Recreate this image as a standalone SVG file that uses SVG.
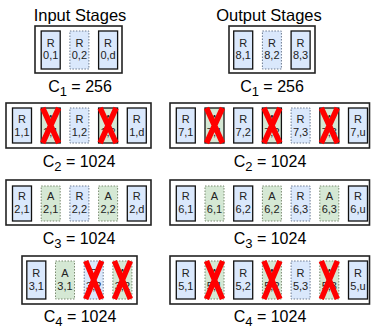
<svg xmlns="http://www.w3.org/2000/svg" width="371" height="329" viewBox="0 0 371 329">
<style>
text{font-family:"Liberation Sans",Arial,sans-serif;fill:#000}
.title{font-size:16.5px;text-anchor:middle}
.cap{font-size:16px;text-anchor:middle}
.sub{font-size:13px}
.t{font-size:11px;text-anchor:middle;fill:#222}
.outer{fill:#fff;stroke:#222;stroke-width:1.6}
.rs{fill:#dae8fc;stroke:#111;stroke-width:1.3}
.rd{fill:#dae8fc;stroke:#6c7a90;stroke-width:1;stroke-dasharray:1.5 1.5}
.as{fill:#d5e8d4;stroke:#111;stroke-width:1.3}
.ad{fill:#d5e8d4;stroke:#7a8a70;stroke-width:1;stroke-dasharray:1.5 1.5}
.x{stroke:#ff0000;stroke-width:5.5;fill:none;stroke-linecap:butt}
</style>
<defs>
<path id="X" class="x" d="M1.5 0 L17.5 35 M17.5 0 L1.5 35"/>
<path id="X4" class="x" d="M1.5 0 L17.5 38 M17.5 0 L1.5 38"/>
</defs>

<text class="title" x="80" y="21">Input Stages</text>
<text class="title" x="269" y="21">Output Stages</text>

<!-- Row 1 left -->
<g id="in0">
<rect class="outer" x="35" y="26" width="87" height="47"/>
<g id="r01"><rect class="rs" x="41.2" y="31" width="19" height="38"/><text class="t" x="50.7" y="47">R</text><text class="t" x="50.7" y="59">0,1</text></g>
<g id="r02"><rect class="rd" x="69.9" y="31" width="19" height="38"/><text class="t" x="79.4" y="47">R</text><text class="t" x="79.4" y="59">0,2</text></g>
<g id="r0d"><rect class="rs" x="98.6" y="31" width="19" height="38"/><text class="t" x="108.1" y="47">R</text><text class="t" x="108.1" y="59">0,d</text></g>
</g>
<text class="cap" x="80" y="92">C<tspan class="sub" dy="3.5">1</tspan><tspan dy="-3.5"> = 256</tspan></text>

<!-- Row 1 right -->
<g id="out8">
<rect class="outer" x="229" y="26" width="86" height="47"/>
<g id="r81"><rect class="rs" x="233.7" y="31" width="19" height="38"/><text class="t" x="243.2" y="47">R</text><text class="t" x="243.2" y="59">8,1</text></g>
<g id="r82"><rect class="rd" x="262.4" y="31" width="19" height="38"/><text class="t" x="271.9" y="47">R</text><text class="t" x="271.9" y="59">8,2</text></g>
<g id="r83"><rect class="rs" x="291.1" y="31" width="19" height="38"/><text class="t" x="300.6" y="47">R</text><text class="t" x="300.6" y="59">8,3</text></g>
</g>
<text class="cap" x="272" y="92">C<tspan class="sub" dy="3.5">1</tspan><tspan dy="-3.5"> = 256</tspan></text>

<!-- Row 2 left -->
<g id="in1">
<rect class="outer" x="6" y="103" width="145" height="45"/>
<g id="r11"><rect class="rs" x="12.5" y="108" width="19" height="35"/><text class="t" x="22" y="123">R</text><text class="t" x="22" y="136">1,1</text></g>
<g id="a11"><rect class="as" x="41.2" y="108" width="19" height="35"/><text class="t" x="50.7" y="123">A</text><text class="t" x="50.7" y="136">1,1</text><use href="#X" x="41.2" y="108"/></g>
<g id="r12"><rect class="rd" x="69.9" y="108" width="19" height="35"/><text class="t" x="79.4" y="123">R</text><text class="t" x="79.4" y="136">1,2</text></g>
<g id="a12"><rect class="as" x="98.6" y="108" width="19" height="35"/><text class="t" x="108.1" y="123">A</text><text class="t" x="108.1" y="136">1,2</text><use href="#X" x="98.6" y="108"/></g>
<g id="r1d"><rect class="rs" x="127.3" y="108" width="19" height="35"/><text class="t" x="136.8" y="123">R</text><text class="t" x="136.8" y="136">1,d</text></g>
</g>
<text class="cap" x="79" y="167">C<tspan class="sub" dy="3.5">2</tspan><tspan dy="-3.5"> = 1024</tspan></text>

<!-- Row 2 right -->
<g id="out7">
<rect class="outer" x="170" y="103" width="199.5" height="45"/>
<g id="r71"><rect class="rs" x="176.3" y="108" width="19" height="35"/><text class="t" x="185.8" y="123">R</text><text class="t" x="185.8" y="136">7,1</text></g>
<g id="a71"><rect class="as" x="205" y="108" width="19" height="35"/><text class="t" x="214.5" y="123">A</text><text class="t" x="214.5" y="136">7,1</text><use href="#X" x="205" y="108"/></g>
<g id="r72"><rect class="rs" x="233.7" y="108" width="19" height="35"/><text class="t" x="243.2" y="123">R</text><text class="t" x="243.2" y="136">7,2</text></g>
<g id="a72"><rect class="as" x="262.4" y="108" width="19" height="35"/><text class="t" x="271.9" y="123">A</text><text class="t" x="271.9" y="136">7,2</text><use href="#X" x="262.4" y="108"/></g>
<g id="r73"><rect class="rd" x="291.1" y="108" width="19" height="35"/><text class="t" x="300.6" y="123">R</text><text class="t" x="300.6" y="136">7,3</text></g>
<g id="a73"><rect class="as" x="319.8" y="108" width="19" height="35"/><text class="t" x="329.3" y="123">A</text><text class="t" x="329.3" y="136">7,3</text><use href="#X" x="319.8" y="108"/></g>
<g id="r7u"><rect class="rs" x="348.5" y="108" width="19" height="35"/><text class="t" x="358" y="123">R</text><text class="t" x="358" y="136">7,u</text></g>
</g>
<text class="cap" x="270" y="167">C<tspan class="sub" dy="3.5">2</tspan><tspan dy="-3.5"> = 1024</tspan></text>

<!-- Row 3 left -->
<g id="in2">
<rect class="outer" x="6" y="180" width="145" height="45"/>
<g id="r21"><rect class="rs" x="12.5" y="186" width="19" height="35"/><text class="t" x="22" y="200">R</text><text class="t" x="22" y="213">2,1</text></g>
<g id="a21"><rect class="ad" x="41.2" y="186" width="19" height="35"/><text class="t" x="50.7" y="200">A</text><text class="t" x="50.7" y="213">2,1</text></g>
<g id="r22"><rect class="rd" x="69.9" y="186" width="19" height="35"/><text class="t" x="79.4" y="200">R</text><text class="t" x="79.4" y="213">2,2</text></g>
<g id="a22"><rect class="ad" x="98.6" y="186" width="19" height="35"/><text class="t" x="108.1" y="200">A</text><text class="t" x="108.1" y="213">2,2</text></g>
<g id="r2d"><rect class="rs" x="127.3" y="186" width="19" height="35"/><text class="t" x="136.8" y="200">R</text><text class="t" x="136.8" y="213">2,d</text></g>
</g>
<text class="cap" x="79" y="244">C<tspan class="sub" dy="3.5">3</tspan><tspan dy="-3.5"> = 1024</tspan></text>

<!-- Row 3 right -->
<g id="out6">
<rect class="outer" x="170" y="180" width="199.5" height="45"/>
<g id="r61"><rect class="rs" x="176.3" y="186" width="19" height="35"/><text class="t" x="185.8" y="200">R</text><text class="t" x="185.8" y="213">6,1</text></g>
<g id="a61"><rect class="ad" x="205" y="186" width="19" height="35"/><text class="t" x="214.5" y="200">A</text><text class="t" x="214.5" y="213">6,1</text></g>
<g id="r62"><rect class="rs" x="233.7" y="186" width="19" height="35"/><text class="t" x="243.2" y="200">R</text><text class="t" x="243.2" y="213">6,2</text></g>
<g id="a62"><rect class="ad" x="262.4" y="186" width="19" height="35"/><text class="t" x="271.9" y="200">A</text><text class="t" x="271.9" y="213">6,2</text></g>
<g id="r63"><rect class="rd" x="291.1" y="186" width="19" height="35"/><text class="t" x="300.6" y="200">R</text><text class="t" x="300.6" y="213">6,3</text></g>
<g id="a63"><rect class="ad" x="319.8" y="186" width="19" height="35"/><text class="t" x="329.3" y="200">A</text><text class="t" x="329.3" y="213">6,3</text></g>
<g id="r6u"><rect class="rs" x="348.5" y="186" width="19" height="35"/><text class="t" x="358" y="200">R</text><text class="t" x="358" y="213">6,u</text></g>
</g>
<text class="cap" x="270" y="244">C<tspan class="sub" dy="3.5">3</tspan><tspan dy="-3.5"> = 1024</tspan></text>

<!-- Row 4 left -->
<g id="in3">
<rect class="outer" x="22" y="256" width="115" height="48"/>
<g id="r31"><rect class="rs" x="26.8" y="261" width="19" height="38"/><text class="t" x="36.3" y="277">R</text><text class="t" x="36.3" y="290">3,1</text></g>
<g id="a31"><rect class="ad" x="55.5" y="261" width="19" height="38"/><text class="t" x="65" y="277">A</text><text class="t" x="65" y="290">3,1</text></g>
<g id="r32"><rect class="rd" x="84.2" y="261" width="19" height="38"/><text class="t" x="93.7" y="277">R</text><text class="t" x="93.7" y="290">3,2</text><use href="#X4" x="84.2" y="261"/></g>
<g id="a32"><rect class="ad" x="112.9" y="261" width="19" height="38"/><text class="t" x="122.4" y="277">A</text><text class="t" x="122.4" y="290">3,2</text><use href="#X4" x="112.9" y="261"/></g>
</g>
<text class="cap" x="80" y="322">C<tspan class="sub" dy="3.5">4</tspan><tspan dy="-3.5"> = 1024</tspan></text>

<!-- Row 4 right -->
<g id="out5">
<rect class="outer" x="170" y="256" width="199.5" height="48"/>
<g id="r51"><rect class="rs" x="176.3" y="261" width="19" height="38"/><text class="t" x="185.8" y="277">R</text><text class="t" x="185.8" y="290">5,1</text></g>
<g id="a51"><rect class="ad" x="205" y="261" width="19" height="38"/><text class="t" x="214.5" y="277">A</text><text class="t" x="214.5" y="290">5,1</text><use href="#X4" x="205" y="261"/></g>
<g id="r52"><rect class="rs" x="233.7" y="261" width="19" height="38"/><text class="t" x="243.2" y="277">R</text><text class="t" x="243.2" y="290">5,2</text></g>
<g id="a52"><rect class="ad" x="262.4" y="261" width="19" height="38"/><text class="t" x="271.9" y="277">A</text><text class="t" x="271.9" y="290">5,2</text><use href="#X4" x="262.4" y="261"/></g>
<g id="r53"><rect class="rd" x="291.1" y="261" width="19" height="38"/><text class="t" x="300.6" y="277">R</text><text class="t" x="300.6" y="290">5,3</text></g>
<g id="a53"><rect class="ad" x="319.8" y="261" width="19" height="38"/><text class="t" x="329.3" y="277">A</text><text class="t" x="329.3" y="290">5,3</text><use href="#X4" x="319.8" y="261"/></g>
<g id="r5u"><rect class="rs" x="348.5" y="261" width="19" height="38"/><text class="t" x="358" y="277">R</text><text class="t" x="358" y="290">5,u</text></g>
</g>
<text class="cap" x="270" y="322">C<tspan class="sub" dy="3.5">4</tspan><tspan dy="-3.5"> = 1024</tspan></text>
</svg>
